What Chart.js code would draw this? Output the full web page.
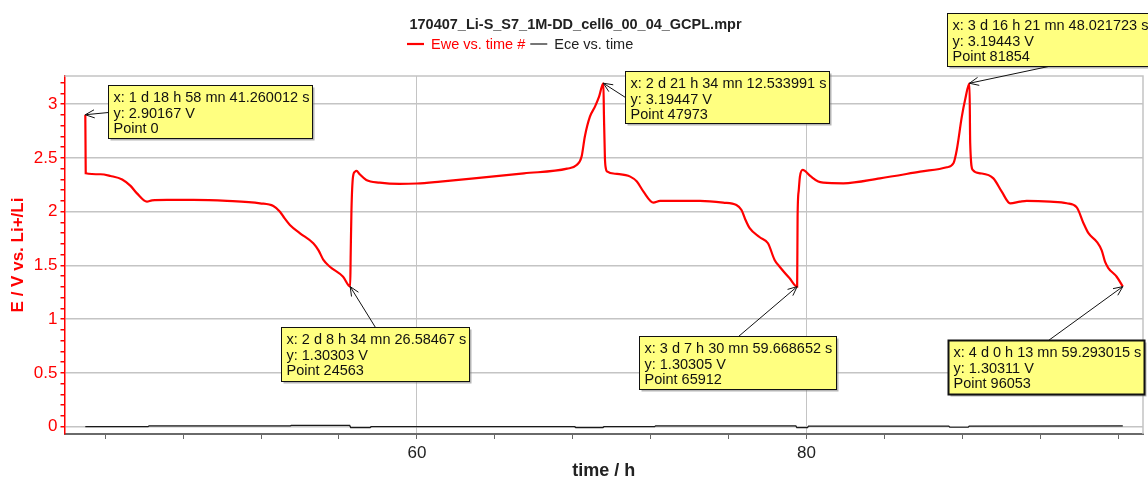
<!DOCTYPE html>
<html lang="en">
<head>
<meta charset="UTF-8">
<title>170407_Li-S_S7_1M-DD_cell6_00_04_GCPL.mpr</title>
<script src="https://cdn.jsdelivr.net/npm/chart.js"></script>
<style>
  html, body { margin: 0; padding: 0; background: #fff; }
</style>
</head>
<body>
<canvas id="myChart" width="1148" height="480"></canvas>
<script>
const chartTitle = '170407_Li-S_S7_1M-DD_cell6_00_04_GCPL.mpr';

// Ewe vs. time (time in h, E in V)
const eweTime = [
  42.978, 42.99, 43.0, 43.76, 44.27, 44.87, 45.3, 45.63, 46.14, 46.4, 47.17, 48.53, 50.25, 51.95,
  52.63, 52.97, 53.2, 53.48, 54.0, 54.68, 54.95, 55.2, 55.53, 56.21, 56.574,
  56.6, 56.64, 56.72, 56.82, 56.9, 57.05, 57.4, 58.09, 59.1, 60.0, 61.2, 62.93, 65.49, 67.71,
  68.2, 68.45, 68.62, 68.88, 69.14, 69.35, 69.570,
  69.6, 69.65, 69.7, 69.75, 70.27, 70.95, 71.29, 71.63, 72.14, 72.48, 74.53, 75.72, 76.4, 76.66,
  76.85, 77.08, 77.6, 78.02, 78.36, 78.62, 79.13, 79.517,
  79.54, 79.6, 79.66, 79.8, 80.2, 80.6, 80.86, 81.89, 83.77, 85.83, 87.2, 87.54, 87.71, 87.97,
  88.15, 88.363,
  88.4, 88.53, 88.91, 89.59, 90.02, 90.45, 90.96, 91.3, 92.5, 93.36, 93.87, 94.21, 94.47, 94.9,
  95.15, 95.32, 95.49, 95.92, 96.233
];
const eweVolt = [
  2.90167, 2.6, 2.357, 2.348, 2.332, 2.30, 2.24, 2.17, 2.093, 2.105, 2.109, 2.109, 2.10, 2.078,
  2.053, 2.0, 1.94, 1.876, 1.799, 1.706, 1.64, 1.551, 1.488, 1.395, 1.30303,
  1.6, 2.016, 2.326, 2.372, 2.379, 2.35, 2.295, 2.27, 2.258, 2.262, 2.28, 2.31, 2.357, 2.40,
  2.434, 2.51, 2.70, 2.884, 2.977, 3.07, 3.19447,
  2.9, 2.5, 2.4, 2.375, 2.351, 2.326, 2.28, 2.186, 2.084, 2.10, 2.10, 2.084, 2.062, 2.016,
  1.93, 1.846, 1.762, 1.706, 1.551, 1.488, 1.38, 1.30305,
  1.953, 2.2, 2.326, 2.388, 2.33, 2.28, 2.27, 2.264, 2.31, 2.372, 2.413, 2.45, 2.574, 2.884,
  3.05, 3.19443,
  2.636, 2.388, 2.357, 2.31, 2.186, 2.078, 2.093, 2.10, 2.093, 2.078, 2.04, 1.895, 1.80, 1.72,
  1.64, 1.535, 1.476, 1.395, 1.30311
];

// Ece vs. time
const eceTime = [42.978, 46.2, 46.25, 53.5, 53.55, 56.55, 56.6, 57.6, 57.65, 68.1, 68.15, 69.55,
  69.6, 72.2, 72.25, 79.45, 79.5, 80.05, 80.1, 87.3, 87.35, 88.3, 88.35, 96.233];
const eceVolt = [0.0, 0.0, 0.008, 0.008, 0.012, 0.012, -0.008, -0.008, 0.0, 0.0, -0.008, -0.008,
  0.0, 0.0, 0.008, 0.008, -0.008, -0.008, 0.005, 0.005, -0.005, -0.005, 0.005, 0.008];

// ticks
const xMinorTicks = [44, 48, 52, 56, 60, 64, 68, 72, 76, 80, 84, 88, 92, 96];
const xLabelTicks = [60, 80];
const yMinorTicks = [0, 0.1, 0.2, 0.3, 0.4, 0.5, 0.6, 0.7, 0.8, 0.9, 1, 1.1, 1.2, 1.3, 1.4, 1.5,
  1.6, 1.7, 1.8, 1.9, 2, 2.1, 2.2, 2.3, 2.4, 2.5, 2.6, 2.7, 2.8, 2.9, 3, 3.1, 3.2];
const yLabelTicks = [0, 0.5, 1, 1.5, 2, 2.5, 3];

// marked points and their labels
const markTime = [42.978, 56.574, 69.570, 79.517, 88.363, 96.233];
const markVolt = [2.90167, 1.30303, 3.19447, 1.30305, 3.19443, 1.30311];
const markText = [
  ['x: 1 d 18 h 58 mn 41.260012 s', 'y: 2.90167 V', 'Point 0'],
  ['x: 2 d 8 h 34 mn 26.58467 s', 'y: 1.30303 V', 'Point 24563'],
  ['x: 2 d 21 h 34 mn 12.533991 s', 'y: 3.19447 V', 'Point 47973'],
  ['x: 3 d 7 h 30 mn 59.668652 s', 'y: 1.30305 V', 'Point 65912'],
  ['x: 3 d 16 h 21 mn 48.021723 s', 'y: 3.19443 V', 'Point 81854'],
  ['x: 4 d 0 h 13 mn 59.293015 s', 'y: 1.30311 V', 'Point 96053']
];
// box placement relative to the marked point: dx, dy, w, h, arrow start (in box), border
const markBox = [
  {dx: 23, dy: -30, w: 204, h: 53, ax: 0, ay: 27, bw: 1},
  {dx: -69, dy: 40, w: 188, h: 54, ax: 94, ay: 0, bw: 1},
  {dx: 22, dy: -12, w: 204, h: 52, ax: 0, ay: 26, bw: 1},
  {dx: -158, dy: 49, w: 197, h: 53, ax: 99, ay: 0, bw: 1},
  {dx: -22, dy: -70, w: 206, h: 53, ax: 101, ay: 53, bw: 1},
  {dx: -175, dy: 53, w: 196, h: 54, ax: 100, ay: 0, bw: 2}
];

const FONT = '"Liberation Sans", Arial, sans-serif';
Chart.defaults.font.family = FONT;

function arrow(ctx, x0, y0, x1, y1) {
  const a = Math.atan2(y1 - y0, x1 - x0);
  const len = 10, sp = 0.42;
  ctx.beginPath();
  ctx.moveTo(x0, y0);
  ctx.lineTo(x1, y1);
  ctx.moveTo(x1 - len * Math.cos(a - sp), y1 - len * Math.sin(a - sp));
  ctx.lineTo(x1, y1);
  ctx.lineTo(x1 - len * Math.cos(a + sp), y1 - len * Math.sin(a + sp));
  ctx.stroke();
}

const notesPlugin = {
  id: 'notes',
  beforeDatasetsDraw(chart) {
    const {ctx, chartArea: ca} = chart;
    ctx.save();
    ctx.strokeStyle = '#c4c4c4';
    ctx.lineWidth = 1.5;
    ctx.beginPath();
    ctx.moveTo(ca.left, ca.top);
    ctx.lineTo(ca.right, ca.top);
    ctx.lineTo(ca.right, ca.bottom);
    ctx.stroke();
    ctx.restore();
  },
  afterDraw(chart) {
    const {ctx, scales: {x, y}} = chart;
    ctx.save();

    // title
    ctx.fillStyle = '#222';
    ctx.font = 'bold 14.5px ' + FONT;
    ctx.textAlign = 'center';
    ctx.textBaseline = 'middle';
    ctx.fillText(chartTitle, 575.5, 25);

    // legend
    ctx.font = '14.5px ' + FONT;
    ctx.textAlign = 'left';
    let lx = 407;
    chart.data.datasets.forEach(ds => {
      ctx.strokeStyle = ds.borderColor;
      ctx.lineWidth = ds.borderWidth;
      ctx.beginPath();
      ctx.moveTo(lx, 44);
      ctx.lineTo(lx + 17, 44);
      ctx.stroke();
      ctx.fillStyle = ds.borderColor === '#ff0000' ? '#ff0000' : '#222';
      ctx.fillText(ds.label, lx + 24, 45);
      lx += 24 + ctx.measureText(ds.label).width + 5;
    });

    // marked points
    markTime.forEach((t, i) => {
      const px = x.getPixelForValue(t);
      const py = y.getPixelForValue(markVolt[i]);
      const b = markBox[i];
      const bx = Math.round(px + b.dx) + 0.5;
      const by = Math.round(py + b.dy) + 0.5;
      ctx.fillStyle = 'rgba(120,120,120,0.55)';
      ctx.fillRect(bx + 2, by + 2, b.w, b.h);
      ctx.fillStyle = '#ffff80';
      ctx.fillRect(bx, by, b.w, b.h);
      ctx.strokeStyle = '#111';
      ctx.lineWidth = b.bw;
      ctx.strokeRect(bx, by, b.w, b.h);
      ctx.fillStyle = '#111';
      ctx.font = '14.5px ' + FONT;
      ctx.textAlign = 'left';
      ctx.textBaseline = 'middle';
      markText[i].forEach((s, k) => ctx.fillText(s, bx + 5, by + 12.5 + k * 15.7));
      ctx.strokeStyle = '#111';
      ctx.lineWidth = 1;
      arrow(ctx, bx + b.ax, by + b.ay, px, py);
    });
    ctx.restore();
  }
};

const ctx = document.getElementById('myChart').getContext('2d');
new Chart(ctx, {
  type: 'line',
  data: {
    datasets: [
      {
        label: 'Ewe vs. time #',
        data: eweTime.map((t, i) => ({x: t, y: eweVolt[i]})),
        borderColor: '#ff0000',
        borderWidth: 2.2,
        pointRadius: 0,
        cubicInterpolationMode: 'monotone'
      },
      {
        label: 'Ece vs. time',
        data: eceTime.map((t, i) => ({x: t, y: eceVolt[i]})),
        borderColor: '#1a1a1a',
        borderWidth: 1.2,
        pointRadius: 0,
        tension: 0
      }
    ]
  },
  options: {
    responsive: false,
    animation: false,
    layout: { padding: {top: 76, right: 5, left: 0, bottom: 0} },
    plugins: {
      legend: { display: false },
      title: { display: false },
      tooltip: { enabled: false }
    },
    scales: {
      x: {
        type: 'linear',
        min: 41.91,
        max: 97.27,
        afterBuildTicks: s => { s.ticks = xMinorTicks.map(v => ({value: v})); },
        afterFit: s => { s.height = 46; },
        ticks: {
          autoSkip: false,
          maxRotation: 0,
          color: '#222',
          font: {size: 17},
          padding: 4,
          callback: v => xLabelTicks.includes(v) ? String(v) : ''
        },
        grid: {
          color: c => (c.tick && xLabelTicks.includes(c.tick.value)) ? '#c4c4c4' : 'rgba(0,0,0,0)',
          tickColor: '#666',
          tickLength: 5,
          lineWidth: 1
        },
        border: { color: '#6a6a6a', width: 2 },
        title: {
          display: true,
          text: 'time / h',
          color: '#222',
          font: {size: 18, weight: 'bold', lineHeight: 1},
          padding: {top: 0, bottom: 0}
        }
      },
      y: {
        min: -0.068,
        max: 3.262,
        afterBuildTicks: s => { s.ticks = yMinorTicks.map(v => ({value: v})); },
        afterFit: s => { s.width = 64.5; },
        ticks: {
          autoSkip: false,
          color: '#ff0000',
          font: {size: 17},
          padding: 3,
          callback: v => yLabelTicks.includes(v) ? String(v) : ''
        },
        grid: {
          color: c => (c.tick && yLabelTicks.includes(c.tick.value)) ? '#c4c4c4' : 'rgba(0,0,0,0)',
          tickColor: '#ff0000',
          tickLength: 4,
          lineWidth: 1.5
        },
        border: { color: '#ff0000', width: 1.5 },
        title: {
          display: true,
          text: 'E / V vs. Li+/Li',
          color: '#ff0000',
          font: {size: 17, weight: 'bold'},
          padding: {top: 8, bottom: 0}
        }
      }
    }
  },
  plugins: [notesPlugin]
});
</script>
</body>
</html>
